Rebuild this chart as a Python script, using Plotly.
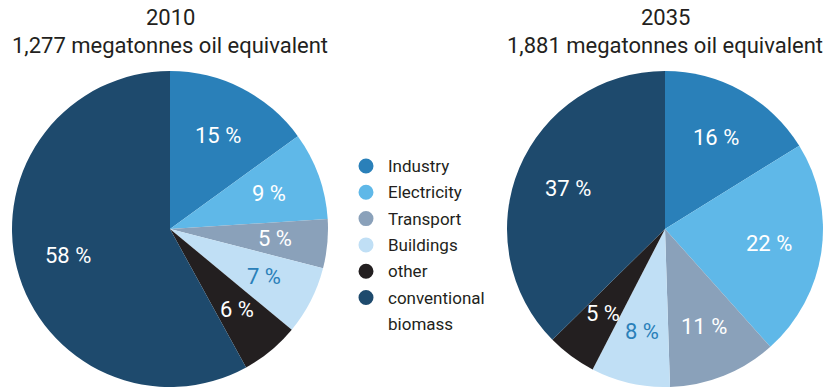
import math
import plotly.graph_objects as go

# Shares of bioenergy use by sector (percent)
categories = ["Industry", "Electricity", "Transport", "Buildings", "other", "conventional biomass"]
legend_labels = ["Industry", "Electricity", "Transport", "Buildings", "other", "conventional<br>biomass"]
share_2010 = [15, 9, 5, 7, 6, 58]
share_2035 = [16, 22, 11, 8, 5, 37]
years = ["2010", "2035"]
totals = ["1,277 megatonnes oil equivalent", "1,881 megatonnes oil equivalent"]

colors = ["#2a80b9", "#5fb8e8", "#8aa1ba", "#c0dff5", "#231f20", "#1e4a6d"]
label_colors = ["white", "white", "white", "#2a80b9", "white", "white"]

W, H = 824, 387
FONT = "Roboto"
TEXT = "#231f20"

fig = go.Figure()

# pie centres (px) and radius
centers = [170, 665]
radius = 158
cy_top = 71
cy = cy_top + radius
label_r = 0.665 * radius

annotations = []

for year, vals, cx in zip(years, [share_2010, share_2035], centers):
    fig.add_trace(go.Pie(
        labels=categories,
        values=vals,
        sort=False,
        direction="clockwise",
        rotation=0,
        marker=dict(colors=colors, line=dict(color="white", width=0)),
        textinfo="none",
        hoverinfo="label+value",
        showlegend=False,
        domain=dict(x=[max(0, (cx - radius) / W), min(1, (cx + radius) / W)],
                    y=[max(0, 1 - (cy_top + 2 * radius) / H), 1 - cy_top / H]),
    ))
    # slice labels at the middle angle of each slice (clockwise from 12 o'clock)
    total = sum(vals)
    cum = 0
    for v, col in zip(vals, label_colors):
        mid = (cum + v / 2) / total * 2 * math.pi
        cum += v
        px = cx + label_r * math.sin(mid)
        py = cy - label_r * math.cos(mid)
        annotations.append(dict(text=f"{v} %", x=px / W, y=1 - py / H,
                                xref="paper", yref="paper", showarrow=False,
                                xanchor="center", yanchor="middle",
                                font=dict(family=FONT, size=22, color=col)))

for year, total, cx in zip(years, totals, centers):
    annotations.append(dict(text=year, x=cx / W, y=1 - 18 / H, xref="paper", yref="paper",
                            showarrow=False, xanchor="center", yanchor="middle",
                            font=dict(family=FONT, size=22, color=TEXT)))
    annotations.append(dict(text=total, x=cx / W, y=1 - 46 / H, xref="paper", yref="paper",
                            showarrow=False, xanchor="center", yanchor="middle",
                            font=dict(family=FONT, size=22, color=TEXT)))

# legend: circle markers with labels
shapes = []
leg_x, leg_y0, leg_dy = 366, 166, 26.3
for i, (lab, col) in enumerate(zip(legend_labels, colors)):
    y = leg_y0 + i * leg_dy
    shapes.append(dict(type="circle", xref="paper", yref="paper",
                       xsizemode="pixel", ysizemode="pixel",
                       xanchor=leg_x / W, yanchor=1 - y / H,
                       x0=-7.5, x1=7.5, y0=-7.5, y1=7.5,
                       fillcolor=col, line=dict(width=0)))
    for j, line in enumerate(lab.split("<br>")):
        annotations.append(dict(text=line, x=386 / W, y=1 - (y + j * leg_dy) / H,
                                xref="paper", yref="paper", showarrow=False,
                                xanchor="left", yanchor="middle", align="left",
                                font=dict(family=FONT, size=17, color=TEXT)))

fig.update_layout(
    width=W, height=H,
    margin=dict(l=0, r=0, t=0, b=0),
    paper_bgcolor="white", plot_bgcolor="white",
    annotations=annotations, shapes=shapes,
)

fig.write_html("out.html")
